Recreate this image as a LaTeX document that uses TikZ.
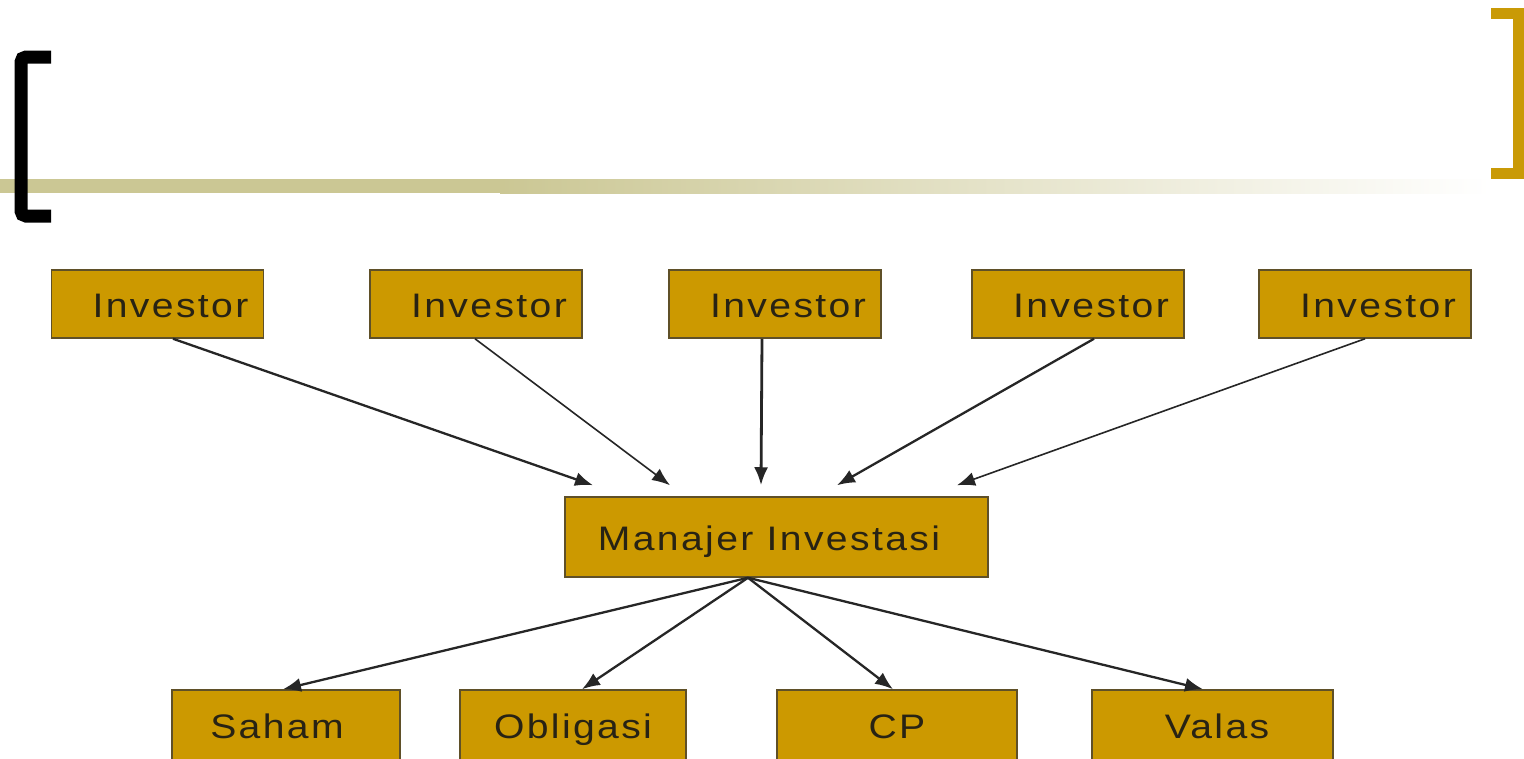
\documentclass[tikz,border=0pt]{standalone}
\usepackage{fontspec}
\setmainfont{Liberation Sans}
\newfontfamily\boxfont{Liberation Sans}[FakeStretch=1.15, LetterSpace=7]
\usetikzlibrary{arrows.meta}
\definecolor{boxgold}{RGB}{204,153,0}
\definecolor{boxedge}{RGB}{95,80,40}
\definecolor{txt}{RGB}{40,35,20}
\definecolor{band}{RGB}{203,199,148}
\definecolor{bracketgold}{RGB}{201,154,6}
\begin{document}
\begin{tikzpicture}[x=1pt,y=-1pt,
  box/.style={draw=boxedge, line width=1.5pt, fill=boxgold, text=txt,
    font=\boxfont\fontsize{34}{40}\selectfont, inner sep=0pt,
    text height=30pt, text depth=4pt, minimum height=68pt},
  arr/.style={draw=black!85, line width=2.3pt, -{Latex[length=18pt,width=14pt]}},
]
\useasboundingbox (0,0) rectangle (1524,758);
\fill[white] (0,0) rectangle (1524,758);
% header band
\fill[band] (0,179) rectangle (500,193);
\shade[left color=band, right color=white] (500,179) rectangle (1490,193);
% brackets
\draw[line width=13pt, rounded corners=5pt] (51,57) -- (21,57) -- (21,216) -- (51,216);
\draw[bracketgold, line width=11pt] (1491,13) -- (1518.5,13) -- (1518.5,173.5) -- (1491,173.5);
% investors
\node[box, minimum width=212pt] (i1) at (157.5,304) {\hspace*{26pt}Investor};
\node[box, minimum width=212pt] (i2) at (476,304) {\hspace*{26pt}Investor};
\node[box, minimum width=212pt] (i3) at (775,304) {\hspace*{26pt}Investor};
\node[box, minimum width=212pt] (i4) at (1078,304) {\hspace*{26pt}Investor};
\node[box, minimum width=212pt] (i5) at (1365,304) {\hspace*{26pt}Investor};
% manager
\node[box, minimum width=423pt, minimum height=80pt] (m) at (776.5,537) {Manajer Investasi\hspace*{15pt}};
% instruments
\node[box, minimum width=228pt, minimum height=70pt] (s1) at (286,725) {Saham\hspace*{18pt}};
\node[box, minimum width=226pt, minimum height=70pt] (s2) at (573,725) {Obligasi};
\node[box, minimum width=240pt, minimum height=70pt] (s3) at (897,725) {CP};
\node[box, minimum width=241pt, minimum height=70pt] (s4) at (1212.5,725) {\hspace*{9pt}Valas};
% arrows investors -> manager
\draw[arr] ([xshift=15.5pt]i1.south) -- ([xshift=-183.5pt,yshift=11pt]m.north);
\draw[arr, line width=1.6pt] ([xshift=-1pt]i2.south) -- ([xshift=-106.5pt,yshift=11pt]m.north);
\draw[arr, line width=2.8pt] ([xshift=-13pt]i3.south) -- ([xshift=-15.5pt,yshift=11pt]m.north);
\draw[arr] ([xshift=16pt]i4.south) -- ([xshift=60.5pt,yshift=11pt]m.north);
\draw[arr, line width=1.6pt] (i5.south) -- ([xshift=180.5pt,yshift=11pt]m.north);
% arrows manager -> instruments
\draw[arr] ([xshift=-28.5pt]m.south) -- ([xshift=-3pt]s1.north);
\draw[arr] ([xshift=-28.5pt]m.south) -- ([xshift=9pt]s2.north);
\draw[arr] ([xshift=-28.5pt]m.south) -- ([xshift=-4pt]s3.north);
\draw[arr] ([xshift=-28.5pt]m.south) -- ([xshift=-9.5pt]s4.north);
\end{tikzpicture}
\end{document}
